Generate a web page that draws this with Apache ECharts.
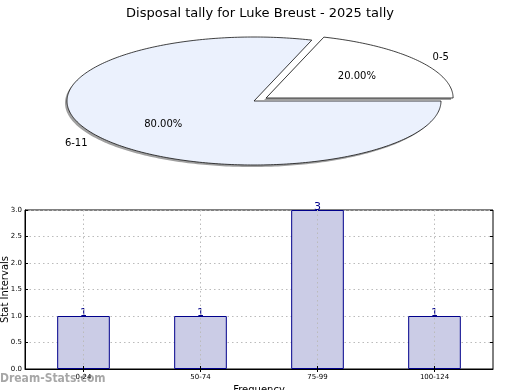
<!DOCTYPE html>
<html><head><meta charset="utf-8">
<script src="https://cdn.jsdelivr.net/npm/echarts@6/dist/echarts.min.js"></script>
<style>html,body{margin:0;padding:0;background:#fff}#c{width:520px;height:390px}</style>
</head><body><div id="c"></div>
<script>
const titleText = 'Disposal tally for Luke Breust - 2025 tally';
const pieLabels = ['0-5', '6-11'];
const pieValues = [1, 4];
const pieColors = ['#ffffff', '#ebf1fd'];
const pieExplode = [0.08, 0];
const barCategories = ['0-24', '50-74', '75-99', '100-124'];
const barValues = [1, 1, 3, 1];
const yTicks = [0, 0.5, 1, 1.5, 2, 2.5, 3];

const chart = echarts.init(document.getElementById('c'), null, {renderer: 'canvas'});
const total = pieValues.reduce((a, b) => a + b, 0);
const FONT = 'DejaVu Sans';

function renderPie(params, api) {
  const idx = params.dataIndex;
  const cx = 254, cy = 101, rx = 187, ry = 64;
  let start = 0;
  for (let i = 0; i < idx; i++) start += pieValues[i] / total * 360;
  const sweep = api.value(0) / total * 360;
  const end = start + sweep;
  const mid = (start + end) / 2 * Math.PI / 180;
  const ex = pieExplode[idx];
  const ox = cx + ex * rx * Math.cos(mid), oy = cy - ex * ry * Math.sin(mid);
  const pts = [[ox, oy]];
  const n = Math.max(8, Math.ceil(sweep));
  for (let k = 0; k <= n; k++) {
    const t = (start + sweep * k / n) * Math.PI / 180;
    pts.push([ox + rx * Math.cos(t), oy - ry * Math.sin(t)]);
  }
  const shadowPts = pts.map(p => [p[0] - 2, p[1] + 2]);
  const pct = (api.value(0) / total * 100).toFixed(2) + '%';
  const right = Math.cos(mid) >= 0;
  return {
    type: 'group',
    children: [
      {type: 'polygon', z2: 0, shape: {points: shadowPts}, style: {fill: '#a0a0a0', stroke: null}},
      {type: 'polygon', z2: 10, shape: {points: pts}, style: {fill: pieColors[idx], stroke: '#111', lineWidth: 0.8}},
      {type: 'text', z2: 20, x: ox + 0.6 * rx * Math.cos(mid), y: oy - 0.6 * ry * Math.sin(mid) + 1,
       style: {text: pct, fill: '#000', font: '10px "' + FONT + '"', align: 'center', verticalAlign: 'middle'}},
      {type: 'text', z2: 20, x: ox + 1.1 * rx * Math.cos(mid), y: oy - 1.1 * ry * Math.sin(mid) + 1,
       style: {text: pieLabels[idx], fill: '#000', font: '10px "' + FONT + '"', align: right ? 'left' : 'right', verticalAlign: 'middle'}}
    ]
  };
}

chart.setOption({
  animation: false,
  backgroundColor: '#fff',
  textStyle: {fontFamily: FONT},
  title: {text: titleText, left: 'center', top: 2, textStyle: {fontFamily: FONT, fontSize: 13, fontWeight: 'normal', color: '#000'}},
  graphic: [{type: 'text', left: 0, top: 373, z: 0, style: {text: 'Dream-Stats.com', fill: 'rgba(120,120,120,0.65)', font: 'bold 12px "DejaVu Sans Condensed"'}}],
  grid: {left: 25, right: 27, top: 210, bottom: 21, containLabel: false, outerBoundsMode: 'none',
         show: true, borderColor: '#000', borderWidth: 1, backgroundColor: 'transparent'},
  xAxis: [{
    type: 'category', data: barCategories, boundaryGap: true, z: 10,
    name: 'Frequency', nameLocation: 'middle', nameGap: 16, nameMoveOverlap: false,
    nameTextStyle: {fontFamily: FONT, fontSize: 10, color: '#000'},
    axisLine: {lineStyle: {color: '#000'}},
    axisTick: {show: true, alignWithLabel: true, inside: true, length: 3, lineStyle: {color: '#000'}},
    axisLabel: {fontFamily: FONT, fontSize: 7, color: '#000', margin: 5},
    splitLine: {show: true, alignWithLabel: true, lineStyle: {color: '#bbb', type: [1.5, 3], width: 1}}
  }, {
    type: 'category', data: barCategories, position: 'top', boundaryGap: true,
    axisLine: {show: false}, axisLabel: {show: false},
    axisTick: {show: true, alignWithLabel: true, inside: true, length: 3, lineStyle: {color: '#000'}}
  }],
  yAxis: [{
    type: 'value', min: 0, max: 3, interval: 0.5,
    name: 'Stat Intervals', nameLocation: 'middle', nameGap: 15, nameMoveOverlap: false,
    nameTextStyle: {fontFamily: FONT, fontSize: 10, color: '#000'},
    axisLine: {show: true, lineStyle: {color: '#000'}},
    axisTick: {show: true, inside: true, length: 3, lineStyle: {color: '#000'}},
    axisLabel: {fontFamily: FONT, fontSize: 7, color: '#000', margin: 3, formatter: v => v.toFixed(1)},
    splitLine: {show: true, lineStyle: {color: '#bbb', type: [1.5, 3], width: 1}}
  }, {
    type: 'value', min: 0, max: 3, interval: 0.5, position: 'right',
    axisLine: {show: false}, axisLabel: {show: false}, splitLine: {show: false},
    axisTick: {show: true, inside: true, length: 3, lineStyle: {color: '#000'}}
  }],
  series: [{
    type: 'custom', coordinateSystem: 'none', renderItem: renderPie,
    data: pieValues.map(v => [v]), silent: true
  }, {
    type: 'bar', data: barValues, xAxisIndex: 0, yAxisIndex: 0, barWidth: '45%',
    itemStyle: {color: '#cbcce6', borderColor: '#00008b', borderWidth: 1},
    label: {show: true, position: 'top', distance: -3, color: '#00008b', fontFamily: FONT, fontSize: 11}
  }]
});
</script></body></html>
